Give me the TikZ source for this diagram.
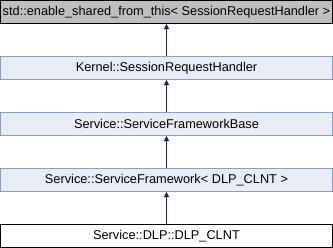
\documentclass[tikz,border=0pt]{standalone}
\usepackage{fontspec}
\setmainfont{Liberation Sans}
\usetikzlibrary{arrows.meta}
\definecolor{basefill}{RGB}{191,191,191}
\definecolor{classfill}{RGB}{232,236,244}
\definecolor{classedge}{RGB}{132,160,208}
\definecolor{inheritline}{RGB}{25,25,112}

\begin{document}
\begin{tikzpicture}[x=1bp,y=-1bp,
    cls/.style={draw=classedge, fill=classfill, line width=1bp,
        minimum width=331bp, minimum height=23bp, inner sep=0pt,
        font=\fontsize{12.8}{15}\selectfont},
    extcls/.style={cls, draw=black, fill=basefill},
    thiscls/.style={cls, draw=black, fill=white},
    inherits/.style={draw=inheritline, line width=1bp,
        -{Triangle[length=5bp,width=5bp]}}]
    \useasboundingbox (0,0) rectangle (333,248);
    % class boxes, top to bottom
    \node[extcls]  (shared)  at (166.5,12)  {std::enable\_shared\_from\_this< SessionRequestHandler >};
    \node[cls]     (handler) at (166.5,68)  {Kernel::SessionRequestHandler};
    \node[cls]     (fwbase)  at (166.5,124) {Service::ServiceFrameworkBase};
    \node[cls]     (fw)      at (166.5,180) {Service::ServiceFramework< DLP\_CLNT >};
    \node[thiscls] (clnt)    at (166.5,236) {Service::DLP::DLP\_CLNT};
    % inheritance arrows
    \draw[inherits] (handler.north) -- (shared.south);
    \draw[inherits] (fwbase.north) -- (handler.south);
    \draw[inherits] (fw.north) -- (fwbase.south);
    \draw[inherits] (clnt.north) -- (fw.south);
\end{tikzpicture}
\end{document}
